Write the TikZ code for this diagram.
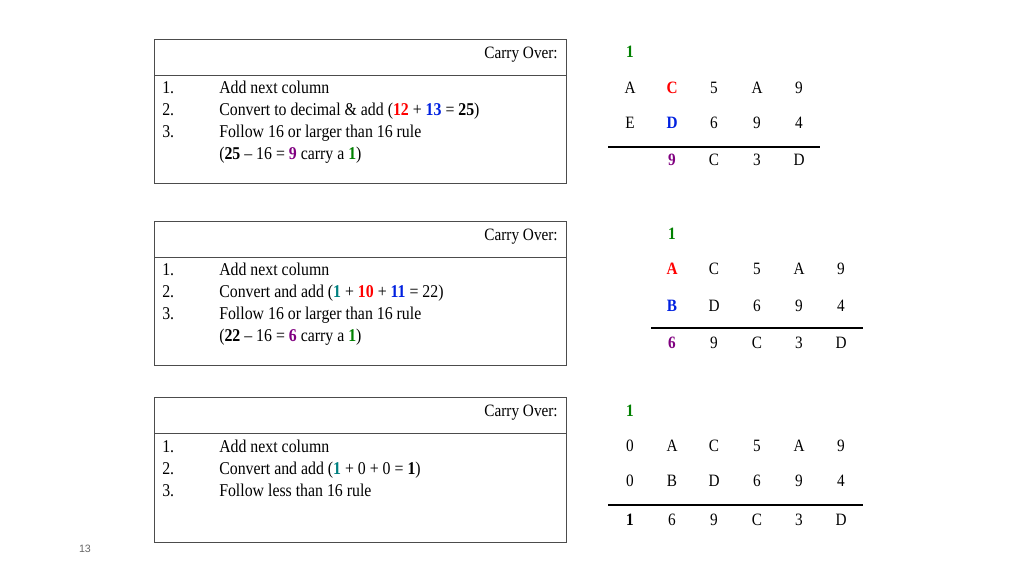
\documentclass[tikz,border=0pt]{standalone}
\usepackage{fontspec}
\setmainfont[FakeStretch=0.88]{Liberation Serif}
\newfontfamily\pgnum{Liberation Sans}
\definecolor{cg}{RGB}{0,128,0}
\definecolor{cp}{RGB}{128,0,128}
\definecolor{cr}{RGB}{255,0,0}
\definecolor{cb}{RGB}{0,32,224}
\definecolor{ct}{RGB}{0,128,128}
\begin{document}
\begin{tikzpicture}[x=0.75pt,y=-0.75pt,
  box/.style={draw=black!70,line width=0.6pt},
  txt/.style={anchor=base west,inner sep=0,yshift=-4.5pt,font=\fontsize{13.5}{15}\selectfont},
  dg/.style={anchor=base,inner sep=0,yshift=-4.5pt,font=\fontsize{13}{15}\selectfont},
  rule/.style={line width=2pt}]
\useasboundingbox (0,0) rectangle (1024,576);
\newcommand{\B}[2]{\textbf{\textcolor{#1}{#2}}}
% tables
\foreach \t/\s/\b in {39/75/183,221/257/365,397/433/542}{
  \draw[box] (154,\t) rectangle (566,\b);
  \draw[box] (154,\s) -- (566,\s);
  \node[dg,anchor=base east] at (558,\t+13) {Carry Over:};
}
% table 1
\node[txt] (n11) at (162,87) {1.};
\node[txt] (n12) at (162,109) {2.};
\node[txt] (n13) at (162,131) {3.};
\node[txt] (a11) at (219,87) {Add next column};
\node[txt] (a12) at (219,109) {Convert to decimal \& add (\B{cr}{12} + \B{cb}{13} = \textbf{25})};
\node[txt] (a13) at (219,131) {Follow 16 or larger than 16 rule};
\node[txt] (a14) at (219,153) {(\textbf{25} -- 16 = \B{cp}{9} carry a \B{cg}{1})};
% table 2
\node[txt] (n21) at (162,269) {1.};
\node[txt] (n22) at (162,291) {2.};
\node[txt] (n23) at (162,313) {3.};
\node[txt] (a21) at (219,269) {Add next column};
\node[txt] (a22) at (219,291) {Convert and add (\B{ct}{1} + \B{cr}{10} + \B{cb}{11} = 22)};
\node[txt] (a23) at (219,313) {Follow 16 or larger than 16 rule};
\node[txt] (a24) at (219,335) {(\textbf{22} -- 16 = \B{cp}{6} carry a \B{cg}{1})};
% table 3
\node[txt] (n31) at (162,446) {1.};
\node[txt] (n32) at (162,468) {2.};
\node[txt] (n33) at (162,490) {3.};
\node[txt] (a31) at (219,446) {Add next column};
\node[txt] (a32) at (219,468) {Convert and add (\B{ct}{1} + 0 + 0 = \textbf{1})};
\node[txt] (a33) at (219,490) {Follow less than 16 rule};
% sums 1
\node[dg] (c1) at (630,51) {\B{cg}{1}};
\foreach \x/\v [count=\i] in {630/A,672/\B{cr}{C},714/5,757/A,799/9}
  \node[dg] (p1\i) at (\x,87) {\v};
\foreach \x/\v [count=\i] in {630/E,672/\B{cb}{D},714/6,757/9,799/4}
  \node[dg] (q1\i) at (\x,122) {\v};
\draw[rule] (608,147) -- (820,147);
\foreach \x/\v [count=\i] in {672/\B{cp}{9},714/C,757/3,799/D}
  \node[dg] (r1\i) at (\x,159) {\v};
% sums 2
\node[dg] (c2) at (672,233) {\B{cg}{1}};
\foreach \x/\v [count=\i] in {672/\B{cr}{A},714/C,757/5,799/A,841/9}
  \node[dg] (p2\i) at (\x,268) {\v};
\foreach \x/\v [count=\i] in {672/\B{cb}{B},714/D,757/6,799/9,841/4}
  \node[dg] (q2\i) at (\x,305) {\v};
\draw[rule] (651,328) -- (863,328);
\foreach \x/\v [count=\i] in {672/\B{cp}{6},714/9,757/C,799/3,841/D}
  \node[dg] (r2\i) at (\x,342) {\v};
% sums 3
\node[dg] (c3) at (630,410) {\B{cg}{1}};
\foreach \x/\v [count=\i] in {630/0,672/A,714/C,757/5,799/A,841/9}
  \node[dg] (p3\i) at (\x,445) {\v};
\foreach \x/\v [count=\i] in {630/0,672/B,714/D,757/6,799/9,841/4}
  \node[dg] (q3\i) at (\x,480) {\v};
\draw[rule] (608,505) -- (863,505);
\foreach \x/\v [count=\i] in {630/\textbf{1},672/6,714/9,757/C,799/3,841/D}
  \node[dg] (r3\i) at (\x,519) {\v};
\node[inner sep=0,font=\pgnum\fontsize{8}{10}\selectfont,text=black!60] (pg) at (85,549) {13};
\end{tikzpicture}
\end{document}
